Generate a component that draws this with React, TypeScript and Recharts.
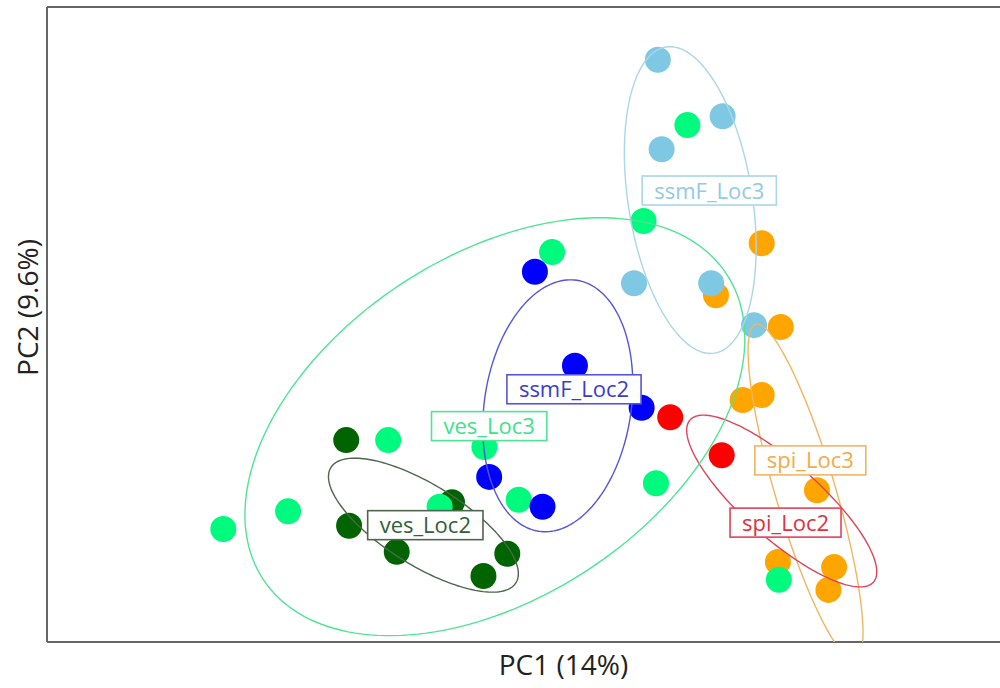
import React, { useLayoutEffect, useRef, useState } from 'react';
import { ScatterChart, Scatter, XAxis, YAxis, ReferenceLine, Label } from 'recharts';

// Group order = drawing order (later groups on top)
const groups = ['ves_Loc2', 'spi_Loc3', 'spi_Loc2', 'ves_Loc3', 'ssmF_Loc3', 'ssmF_Loc2'];

// PCA scores (PC1 = x, PC2 = y)
const vesLoc2 = [
  { x: -18.6, y: -18.2 }, { x: -7.5, y: -28.0 }, { x: -18.3, y: -31.7 },
  { x: -13.3, y: -35.8 }, { x: -1.7, y: -36.1 }, { x: -4.2, y: -39.6 },
];
const spiLoc3 = [
  { x: 25.0, y: 12.8 }, { x: 20.2, y: 4.6 }, { x: 27.0, y: -0.4 },
  { x: 23.0, y: -11.9 }, { x: 25.0, y: -11.1 }, { x: 30.8, y: -26.1 },
  { x: 26.7, y: -37.4 }, { x: 32.6, y: -38.2 }, { x: 32.0, y: -41.8 },
];
const spiLoc2 = [
  { x: 15.4, y: -14.6 }, { x: 20.8, y: -20.6 },
];
const vesLoc3 = [
  { x: 17.2, y: 31.4 }, { x: 12.6, y: 16.3 }, { x: 3.0, y: 11.4 },
  { x: -14.2, y: -18.2 }, { x: -4.1, y: -19.3 }, { x: -24.7, y: -29.4 },
  { x: -31.5, y: -32.2 }, { x: -0.5, y: -27.6 }, { x: -8.8, y: -28.7 },
  { x: 13.9, y: -25.0 }, { x: 26.8, y: -40.2 },
];
const ssmFLoc3 = [
  { x: 14.1, y: 41.7 }, { x: 20.9, y: 32.8 }, { x: 14.5, y: 27.6 },
  { x: 11.6, y: 6.5 }, { x: 19.7, y: 6.5 }, { x: 24.2, y: -0.1 },
];
const ssmFLoc2 = [
  { x: 1.2, y: 8.3 }, { x: 5.4, y: -6.5 }, { x: 12.4, y: -13.1 },
  { x: -3.6, y: -24.0 }, { x: 2.0, y: -28.7 },
];
const groupPoints = [vesLoc2, spiLoc3, spiLoc2, vesLoc3, ssmFLoc3, ssmFLoc2];

// Confidence ellipses: centre and two conjugate semi-axis vectors (data units)
const ellipseCenters = [[-10.5, -31.6], [29.6, -26.4], [27.1, -27.8], [-3.0, -16.1], [17.5, 19.6], [3.6, -12.8]];
const ellipseAxisU = [[9.71, -9.07], [-5.22, 26.43], [9.62, -12.77], [24.31, 24.05], [-2.54, 24.11], [2.01, 19.76]];
const ellipseAxisV = [[-2.23, -5.39], [3.02, 1.34], [-2.63, -4.46], [9.85, -22.46], [6.43, 1.53], [7.61, -1.75]];

// Group label anchor positions
const labelPos = [[-10.3, -31.6], [30.1, -21.4], [27.5, -31.2], [-3.6, -16.0], [19.5, 21.1], [5.3, -10.2]];

const xLabel = 'PC1 (14%)';
const yLabel = 'PC2 (9.6%)';

// Styles
const pointColors = ['#006400', '#FFA500', '#FF0000', '#00FA7D', '#7EC8E3', '#0000FF'];
const lineColors = ['#4F644F', '#F2B463', '#E0435A', '#4FE494', '#A9D6EA', '#5555DA'];
const textColors = ['#335E38', '#F0AC48', '#E2303E', '#3DE38A', '#92CAE2', '#3C3CCB'];
const FONT = '"Open Sans", "Noto Sans", sans-serif';

function LabelBox({ cx, cy, text, stroke, color }: any) {
  const ref = useRef<SVGTextElement>(null);
  const [w, setW] = useState(text.length * 12 + 24);
  useLayoutEffect(() => {
    if (ref.current) {
      const l = ref.current.getComputedTextLength() + 24;
      if (Math.abs(l - w) > 0.5) setW(l);
    }
  });
  if (cx == null || cy == null) return <g />;
  return (
    <g>
      <rect x={cx - w / 2} y={cy - 14.5} width={w} height={29} fill="#fff" stroke={stroke} strokeWidth={1.6} />
      <text ref={ref} x={cx} y={cy + 8} textAnchor="middle" fontSize={22} fill={color} fontFamily={FONT}>
        {text}
      </text>
    </g>
  );
}

const makeEllipse = (color: string) => (props: any) => {
  const pts = props.points;
  if (!pts || pts.length < 3) return <g />;
  const [c, u, v] = pts;
  const ux = u.x - c.x, uy = u.y - c.y, vx = v.x - c.x, vy = v.y - c.y;
  let d = '';
  const n = 180;
  for (let i = 0; i <= n; i++) {
    const t = (i / n) * Math.PI * 2;
    const px = c.x + Math.cos(t) * ux + Math.sin(t) * vx;
    const py = c.y + Math.cos(t) * uy + Math.sin(t) * vy;
    d += (i === 0 ? 'M' : 'L') + px.toFixed(2) + ',' + py.toFixed(2);
  }
  return <path d={d + 'Z'} fill="none" stroke={color} strokeWidth={1.4} />;
};

const emptyShape = () => <g />;

export default function App() {
  return (
    <div style={{ position: 'absolute', left: 0, top: 0, width: 1000, height: 688, overflow: 'hidden', background: '#fff' }}>
      <ScatterChart width={1080} height={688} margin={{ top: 7, right: 0, bottom: 0, left: 0 }}>
        <XAxis
          dataKey="x"
          type="number"
          domain={[-50, 58.4]}
          allowDataOverflow
          tick={false}
          tickLine={false}
          height={46}
          axisLine={{ stroke: '#666', strokeWidth: 2 }}
        >
          <Label value={xLabel} position="center" fontSize={28} fill="#222" fontFamily={FONT} />
        </XAxis>
        <YAxis
          dataKey="y"
          type="number"
          domain={[-50, 50]}
          allowDataOverflow
          tick={false}
          tickLine={false}
          width={47}
          axisLine={{ stroke: '#666', strokeWidth: 2 }}
        >
          <Label
            content={(p: any) => {
              const vb = p.viewBox || { x: 0, y: 7, width: 47, height: 635 };
              const x = vb.x + vb.width / 2 + 4;
              const y = vb.y + vb.height / 2 - 17;
              return (
                <text
                  x={x}
                  y={y}
                  transform={`rotate(-90, ${x}, ${y})`}
                  textAnchor="middle"
                  dy={10}
                  fontSize={28}
                  fill="#222"
                  fontFamily={FONT}
                >
                  {yLabel}
                </text>
              );
            }}
          />
        </YAxis>
        <ReferenceLine y={50} stroke="#666" strokeWidth={2} />
        {groups.map((g, i) => (
          <Scatter
            key={'pts-' + g}
            name={g}
            data={groupPoints[i]}
            isAnimationActive={false}
            shape={(p: any) => <circle cx={p.cx} cy={p.cy} r={13} fill={pointColors[i]} />}
          />
        ))}
        {groups.map((g, i) => (
          <Scatter
            key={'ell-' + g}
            data={[
              { x: ellipseCenters[i][0], y: ellipseCenters[i][1] },
              { x: ellipseCenters[i][0] + ellipseAxisU[i][0], y: ellipseCenters[i][1] + ellipseAxisU[i][1] },
              { x: ellipseCenters[i][0] + ellipseAxisV[i][0], y: ellipseCenters[i][1] + ellipseAxisV[i][1] },
            ]}
            isAnimationActive={false}
            shape={emptyShape}
            line={makeEllipse(lineColors[i])}
            lineType="joint"
          />
        ))}
        {groups.map((g, i) => (
          <Scatter
            key={'lab-' + g}
            data={[{ x: labelPos[i][0], y: labelPos[i][1], label: g }]}
            isAnimationActive={false}
            shape={(p: any) => (
              <LabelBox cx={p.cx} cy={p.cy} text={g} stroke={lineColors[i]} color={textColors[i]} />
            )}
          />
        ))}
      </ScatterChart>
    </div>
  );
}
